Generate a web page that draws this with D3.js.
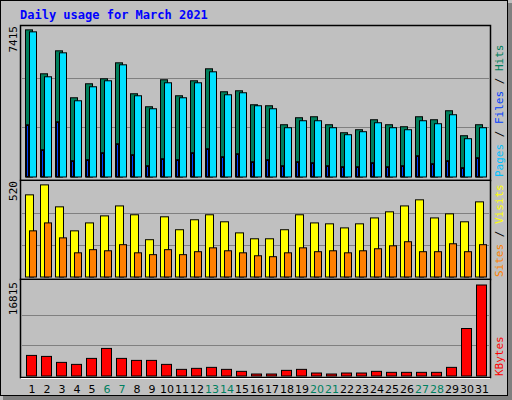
<!DOCTYPE html><html><head><meta charset="utf-8">
<script src="https://cdn.jsdelivr.net/npm/d3@7"></script>
<style>body{margin:0;background:#fff}</style></head><body>
<script>
const days=d3.range(1,32);
const weekend=[6,7,13,14,20,21,27,28];
const hits=[7412,5199,6356,3991,4696,4947,5752,4193,3538,4897,4092,4847,5450,4293,4343,3639,3589,2633,2985,3035,2633,2230,2381,2884,2633,2532,3035,2884,3337,2079,2633];
const files=[7312,5048,6255,3840,4545,4847,5651,4092,3438,4746,3991,4746,5299,4142,4243,3589,3438,2482,2834,2834,2482,2130,2281,2733,2482,2381,2834,2683,3136,1929,2482];
const pages=[2633,1375,2784,822,872,1224,1677,1124,570,922,872,1224,1425,1023,1174,771,872,570,771,721,570,520,520,721,520,570,1073,671,822,470,973];
const visits=[445,499,380,250,293,331,385,337,202,326,256,310,337,299,239,207,207,256,337,293,288,266,288,320,353,385,418,320,342,299,407];
const sites=[250,293,212,131,148,142,175,131,121,148,121,137,158,142,131,115,110,131,158,137,142,131,142,153,169,191,137,137,180,137,175];
const kbytes=[3805,3621,2516,2148,3253,5094,3253,2884,2884,2148,1227,1412,1596,1227,859,368,368,1043,1227,552,368,552,552,859,675,675,675,675,1596,8776,16815];
const maxHits=7415,maxVisits=520,maxK=16815;

const svg=d3.select("body").append("svg").attr("width",512).attr("height",400);
svg.append("rect").attr("width",512).attr("height",400).attr("fill","#c0c0c0");
svg.append("rect").attr("x",0.5).attr("y",0.5).attr("width",507).attr("height",395).attr("fill","none").attr("stroke","#000");
svg.append("rect").attr("x",508).attr("y",3).attr("width",4).attr("height",397).attr("fill","#808080");
svg.append("rect").attr("x",3).attr("y",396).attr("width",509).attr("height",4).attr("fill","#808080");
svg.append("text").attr("x",20).attr("y",19).text("Daily usage for March 2021")
 .attr("font-family","DejaVu Sans Mono").attr("font-weight","bold").attr("font-size",12).attr("fill","#0000ff");

const x=d3.scaleLinear().domain([1,31]).range([25,475]);
function panel(y0,y1,bottom,top){
  svg.append("rect").attr("x",20.5).attr("y",y0+0.5).attr("width",470).attr("height",y1-y0).attr("fill","none").attr("stroke","#000").attr("stroke-width",1.5);
  svg.append("line").attr("x1",21).attr("x2",490).attr("y1",y1+1.5).attr("y2",y1+1.5).attr("stroke","#fff");
  const y=d3.scaleLinear().domain([0,1]).range([bottom,top]);
  [1/3,2/3].forEach(f=>svg.append("line").attr("x1",22).attr("x2",489).attr("y1",Math.round(y(f))+0.5).attr("y2",Math.round(y(f))+0.5).attr("stroke","#808080"));
  return y;
}
function bars(data,max,yf,dx,w,fill){
  const y=d3.scaleLinear().domain([0,max]).range([yf.range()[0],yf.range()[1]]);
  svg.append("g").selectAll("rect").data(data).join("rect")
   .attr("x",(d,i)=>x(i+1)+dx+0.5).attr("y",d=>y(d)+0.5).attr("width",w).attr("height",d=>Math.max(0,y(0)-y(d)))
   .attr("fill",fill).attr("stroke","#000");
}
const y1=panel(25,180,176.5,29.3);
bars(hits,maxHits,y1,0,7,"#00805c");
bars(files,maxHits,y1,4,7,"#00e0ff");
bars(pages,maxHits,y1,1,2,"#0040ff");
const y2=panel(180,279,276.5,180.5);
bars(visits,maxVisits,y2,0,8,"#ffff00");
bars(sites,maxVisits,y2,4,7,"#ff8000");
const y3=panel(279,377,375.5,284.5);
bars(kbytes,maxK,y3,1,10,"#ff0000");

function vtext(xx,yy,parts,anchor){
  const t=svg.append("text").attr("transform",`translate(${xx},${yy}) rotate(-90)`).attr("text-anchor",anchor)
   .attr("font-family","DejaVu Sans Mono").attr("font-size",11);
  parts.forEach(p=>t.append("tspan").text(p[0]).attr("fill",p[1]));
}
vtext(17,26,[["7415","#000"]],"end");
vtext(17,181,[["520","#000"]],"end");
vtext(17,282,[["16815","#000"]],"end");
vtext(503,177,[["Pages","#00c0ff"],[" / ","#000"],["Files","#0040ff"],[" / ","#000"],["Hits","#00805c"]],"start");
vtext(503,277,[["Sites","#ff8000"],[" / ","#000"],["Visits","#ffff00"]],"start");
vtext(503,376,[["KBytes","#ff0000"]],"start");
svg.append("g").selectAll("text").data(days).join("text")
 .attr("x",d=>x(d)+7).attr("y",393).attr("text-anchor","middle").attr("font-family","DejaVu Sans").attr("font-size",11)
 .attr("fill",d=>weekend.includes(d)?"#008060":"#000").text(d=>d);
</script></body></html>
